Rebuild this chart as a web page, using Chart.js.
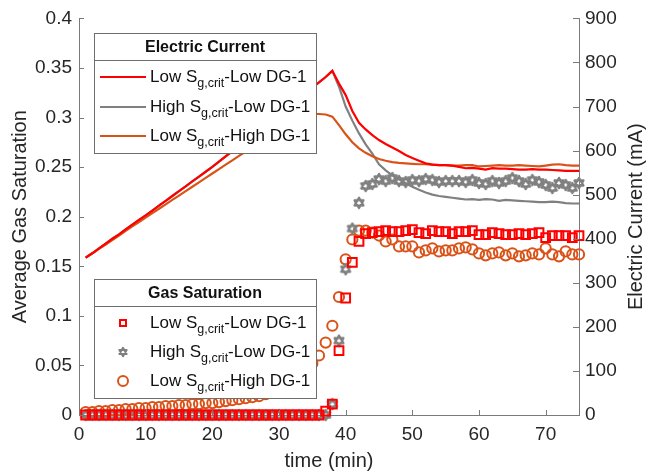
<!DOCTYPE html>
<html><head><meta charset="utf-8">
<script src="https://cdn.jsdelivr.net/npm/chart.js@4.4.1/dist/chart.umd.min.js"></script>
<style>html,body{margin:0;padding:0;background:#fff;}canvas{display:block;}</style>
</head><body>
<canvas id="c" width="646" height="472" style="width:646px;height:472px"></canvas>
<script>
const time = [1,2,3,4,5,6,7,8,9,10,11,12,13,14,15,16,17,18,19,20,21,22,23,24,25,26,27,28,29,30,31,32,33,34,35,36,37,38,39,40,41,42,43,44,45,46,47,48,49,50,51,52,53,54,55,56,57,58,59,60,61,62,63,64,65,66,67,68,69,70,71,72,73,74,75];

const currentLowLow = [357,367,378,389,400,410,421,432,443,453,464,475,486,497,508,519,530,541,552,563,575,587,599,611,623,635,647,659,671,683,695,707,719,731,743,755,767,781,
  752,726,690,663,648,635,624,615,607,599,590,583,577,571,568,567,567,566,563,560,561,559,557,560,559,559,558,557,557,558,557,557,556,555,554,554,554];
const currentHighLow = [357,367,378,389,400,410,421,432,443,453,464,475,486,497,508,519,530,541,552,563,575,587,599,611,623,635,647,659,671,683,695,707,719,731,743,755,767,781,
  745,700,668,639,614,593,569,555,544,535,526,518,511,505,500,497,495,493,491,489,490,488,490,489,486,488,487,486,485,484,483,483,484,483,481,480,480];
const currentLowHigh = [357,367,377,387,397,407,418,428,438,448,458,468,478,488,498,508,518,528,538,548,558,568,578,588,598,608,618,628,638,648,660,670,677,681,683,683,682,677,
  658,637,619,605,595,587,581,577,574,572,571,570,569,569,568,567,567,566,566,567,567,564,565,566,567,566,566,567,566,565,564,566,568,569,567,566,566];

const satLowLow = [0,0,0,0,0,0,0,0,0,0,0,0,0,0,0,0,0,0,0,0,0,0,0,0,0,0,0,0,0,0,0,0,0,0,0,0,
  0.004,0.011,0.065,0.118,0.154,0.175,0.183,
  0.184,0.185,0.186,0.185,0.185,0.186,0.187,0.184,0.183,0.186,0.185,0.185,0.183,0.185,0.185,0.186,0.182,0.182,0.184,0.183,0.182,0.182,0.183,0.182,0.183,0.184,0.179,0.181,0.181,0.181,0.179,0.181];
const satHighLow = [0,0,0,0,0,0,0,0,0,0,0,0,0,0,0,0,0,0,0,0,0,0,0,0,0,0,0,0,0,0,0,0,0,0,0,0,0,
  0.011,0.075,0.147,0.188,0.214,
  0.231,0.233,0.238,0.236,0.239,0.236,0.235,0.237,0.236,0.238,0.237,0.235,0.236,0.236,0.236,0.235,0.237,0.234,0.233,0.236,0.234,0.236,0.239,0.236,0.233,0.237,0.235,0.232,0.229,0.234,0.232,0.229,0.234];
const satLowHigh = [0.003,0.003,0.004,0.004,0.005,0.005,0.006,0.006,0.007,0.007,0.008,0.008,0.009,0.009,0.010,0.010,0.011,0.011,0.012,0.012,0.013,0.014,0.015,0.016,0.017,0.018,0.019,0.021,0.023,0.025,0.028,0.032,0.037,0.043,0.052,0.060,0.073,0.090,0.119,0.157,0.177,0.186,
  0.186,0.184,0.181,0.175,0.177,0.170,0.170,0.170,0.164,0.166,0.168,0.165,0.166,0.166,0.168,0.169,0.167,0.163,0.161,0.163,0.164,0.161,0.163,0.160,0.161,0.163,0.162,0.168,0.162,0.160,0.165,0.162,0.162];

const xTicks = [0,10,20,30,40,50,60,70];
const yLeftTicks = [0,0.05,0.1,0.15,0.2,0.25,0.3,0.35,0.4];
const yLeftLabels = ['0','0.05','0.1','0.15','0.2','0.25','0.3','0.35','0.4'];
const yRightTicks = [0,100,200,300,400,500,600,700,800,900];
const seriesNames = [['Low S','g,crit','-Low DG-1'],['High S','g,crit','-Low DG-1'],['Low S','g,crit','-High DG-1']];
const legendTitles = ['Electric Current','Gas Saturation'];
const xTitle = 'time (min)', yLeftTitle = 'Average Gas Saturation', yRightTitle = 'Electric Current (mA)';

const FONT = '"Liberation Sans", Arial, Helvetica, sans-serif';
const RED = '#ff0000', GRAY = '#808080', ORANGE = '#d95319';
const AXIS = '#7a7a7a', TXT = '#262626';

function pts(vals){ return time.map((t,i)=>({x:t, y:vals[i]})); }

function starPath(ctx, cx, cy, R){
  for (let k=0;k<2;k++){
    const off = k===0 ? -Math.PI/2 : Math.PI/2;
    ctx.moveTo(cx+R*Math.cos(off), cy+R*Math.sin(off));
    for (let j=1;j<3;j++){ const a = off + j*2*Math.PI/3; ctx.lineTo(cx+R*Math.cos(a), cy+R*Math.sin(a)); }
    ctx.closePath();
  }
}
function makeStar(size, R, lw){
  const c = document.createElement('canvas'); c.width = size; c.height = size;
  const g = c.getContext('2d'); g.strokeStyle = GRAY; g.lineWidth = lw; g.lineJoin='round';
  g.beginPath(); starPath(g, size/2, size/2, R); g.stroke();
  return c;
}
const starImg = makeStar(14, 5.2, 2.2);

function drawLabel(ctx, x, y, parts){
  ctx.textAlign='left'; ctx.textBaseline='middle'; ctx.fillStyle='#111';
  ctx.font = '17px '+FONT; ctx.fillText(parts[0], x, y); x += ctx.measureText(parts[0]).width;
  ctx.font = '12.5px '+FONT; ctx.fillText(parts[1], x, y+7); x += ctx.measureText(parts[1]).width;
  ctx.font = '17px '+FONT; ctx.fillText(parts[2], x, y);
}
function drawBox(ctx, b, title){
  ctx.fillStyle='#fff'; ctx.fillRect(b.x, b.y, b.w, b.h);
  ctx.strokeStyle='#6e6e6e'; ctx.lineWidth=1;
  ctx.strokeRect(b.x+0.5, b.y+0.5, b.w, b.h);
  ctx.beginPath(); ctx.moveTo(b.x, b.sep+0.5); ctx.lineTo(b.x+b.w, b.sep+0.5); ctx.stroke();
  ctx.font='bold 16px '+FONT; ctx.fillStyle='#111'; ctx.textAlign='center'; ctx.textBaseline='middle';
  ctx.fillText(title, b.x+b.w/2, (b.y+b.sep)/2+1);
}

const overlay = {
  id:'overlay',
  afterDraw(chart){
    const ctx = chart.ctx, a = chart.chartArea;
    const sx = chart.scales.x, sy = chart.scales.y, sy1 = chart.scales.y1;
    ctx.save();
    ctx.strokeStyle = AXIS; ctx.lineWidth = 1;
    ctx.beginPath();
    xTicks.forEach(v=>{const p=Math.round(sx.getPixelForValue(v))+0.5; ctx.moveTo(p,a.bottom); ctx.lineTo(p,a.bottom-5);});
    yLeftTicks.forEach(v=>{const p=Math.round(sy.getPixelForValue(v))+0.5; ctx.moveTo(a.left,p); ctx.lineTo(a.left+5,p);});
    yRightTicks.forEach(v=>{const p=Math.round(sy1.getPixelForValue(v))+0.5; ctx.moveTo(a.right,p); ctx.lineTo(a.right-6,p);});
    ctx.stroke();
    // right title
    ctx.save();
    ctx.translate(636, (a.top+a.bottom)/2); ctx.rotate(-Math.PI/2);
    ctx.font='20px '+FONT; ctx.fillStyle=TXT; ctx.textAlign='center'; ctx.textBaseline='middle';
    ctx.fillText(yRightTitle,0,0);
    ctx.restore();
    // legend 1
    const b1 = {x:94, y:33, w:222, h:120, sep:60, rows:[77,107,136]};
    drawBox(ctx, b1, legendTitles[0]);
    const lineCols = [RED, GRAY, ORANGE];
    b1.rows.forEach((y,i)=>{
      ctx.strokeStyle=lineCols[i]; ctx.lineWidth=2; ctx.beginPath(); ctx.moveTo(100,y); ctx.lineTo(146,y); ctx.stroke();
      drawLabel(ctx, 150, y, seriesNames[i]);
    });
    // legend 2
    const b2 = {x:94, y:279, w:222, h:119, sep:306, rows:[323,352,381]};
    drawBox(ctx, b2, legendTitles[1]);
    const mx = 123;
    let y = b2.rows[0];
    ctx.strokeStyle=RED; ctx.lineWidth=2; ctx.strokeRect(mx-3, y-3, 6, 6);
    y = b2.rows[1];
    ctx.drawImage(makeStar(12, 4.2, 2), mx-6, y-6);
    y = b2.rows[2];
    ctx.strokeStyle=ORANGE; ctx.lineWidth=2; ctx.beginPath(); ctx.arc(mx, y, 5, 0, Math.PI*2); ctx.stroke();
    b2.rows.forEach((yy,i)=>drawLabel(ctx, 150, yy, seriesNames[i]));
    ctx.restore();
  }
};

const lbl = n => n[0]+n[1]+n[2];
new Chart(document.getElementById('c'), {
  type:'line',
  data:{ datasets:[
    {label:'sat '+lbl(seriesNames[0]), data:pts(satLowLow), yAxisID:'y', showLine:false, pointStyle:'rect', pointRadius:6.2, borderColor:RED, backgroundColor:'rgba(0,0,0,0)', pointBorderWidth:2, order:0, clip:false},
    {label:'sat '+lbl(seriesNames[1]), data:pts(satHighLow), yAxisID:'y', showLine:false, pointStyle:starImg, pointRadius:7, borderColor:GRAY, backgroundColor:GRAY, order:1, clip:false},
    {label:'sat '+lbl(seriesNames[2]), data:pts(satLowHigh), yAxisID:'y', showLine:false, pointStyle:'circle', pointRadius:5.1, borderColor:ORANGE, backgroundColor:'rgba(0,0,0,0)', pointBorderWidth:2, order:2, clip:false},
    {label:'cur '+lbl(seriesNames[0]), data:pts(currentLowLow), yAxisID:'y1', borderColor:RED, borderWidth:2.2, pointRadius:0, tension:0, order:3},
    {label:'cur '+lbl(seriesNames[2]), data:pts(currentLowHigh), yAxisID:'y1', borderColor:ORANGE, borderWidth:2.2, pointRadius:0, tension:0, order:4},
    {label:'cur '+lbl(seriesNames[1]), data:pts(currentHighLow), yAxisID:'y1', borderColor:GRAY, borderWidth:2.2, pointRadius:0, tension:0, order:5}
  ]},
  options:{
    responsive:false, animation:false, devicePixelRatio:1, events:[],
    layout:{padding:{top:18,left:0,right:0,bottom:0}},
    plugins:{legend:{display:false}, tooltip:{enabled:false}, title:{display:false}},
    scales:{
      x:{type:'linear', position:'bottom', min:0, max:75,
        afterBuildTicks:s=>{s.ticks = xTicks.map(v=>({value:v}));},
        afterFit:s=>{s.height=57;},
        grid:{display:true, drawOnChartArea:false, drawTicks:false},
        border:{display:true, color:AXIS, width:1},
        ticks:{font:{family:FONT, size:19}, color:TXT, padding:8, maxRotation:0, autoSkip:false},
        title:{display:true, text:xTitle, color:TXT, font:{family:FONT, size:20, lineHeight:1}, padding:{top:0,bottom:0.5}}
      },
      y:{type:'linear', position:'left', min:0, max:0.4,
        afterBuildTicks:s=>{s.ticks = yLeftTicks.map(v=>({value:v}));},
        afterFit:s=>{s.width=79;},
        grid:{display:true, drawOnChartArea:false, drawTicks:false},
        border:{display:true, color:AXIS, width:1},
        ticks:{font:{family:FONT, size:19}, color:TXT, padding:7, autoSkip:false, callback:(v,i)=>yLeftLabels[i]},
        title:{display:true, text:yLeftTitle, color:TXT, font:{family:FONT, size:20, lineHeight:1}, padding:{top:10.5,bottom:0}}
      },
      y1:{type:'linear', position:'right', min:0, max:900,
        afterBuildTicks:s=>{s.ticks = yRightTicks.map(v=>({value:v}));},
        afterFit:s=>{s.width=67;},
        grid:{display:true, drawOnChartArea:false, drawTicks:false},
        border:{display:true, color:AXIS, width:1},
        ticks:{font:{family:FONT, size:19}, color:TXT, padding:6, autoSkip:false},
        title:{display:false}
      }
    }
  },
  plugins:[overlay]
});
</script>
</body></html>
